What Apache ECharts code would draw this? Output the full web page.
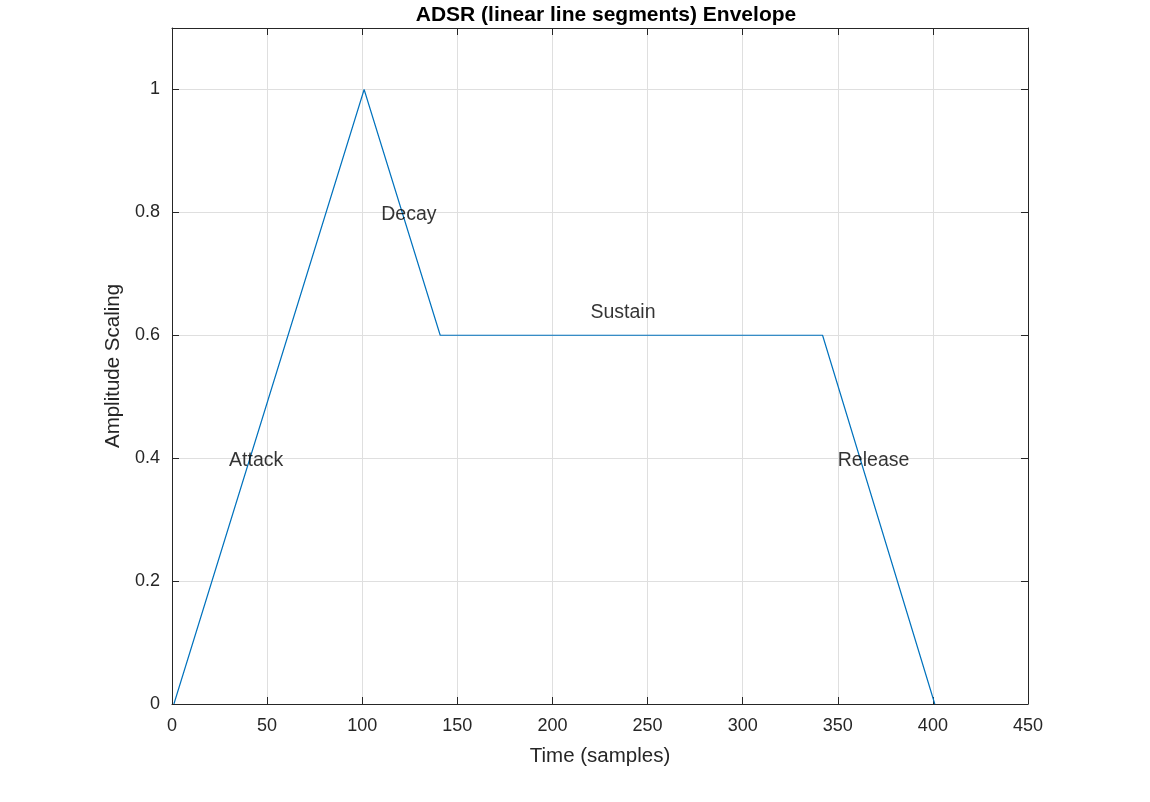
<!DOCTYPE html>
<html>
<head>
<meta charset="utf-8">
<script src="https://cdn.jsdelivr.net/npm/echarts@6/dist/echarts.min.js"></script>
<style>html,body{margin:0;padding:0;background:#fff;}#c{width:1150px;height:802px;}</style>
</head>
<body>
<div id="c"></div>
<script>
const timeSamples = [1, 101, 141, 342, 401];
const amplitude = [0, 1, 0.6, 0.6, 0];
const labelNames = ['Attack', 'Decay', 'Sustain', 'Release'];
const labelX = [30, 110, 220, 350];
const labelY = [0.4, 0.8, 0.64, 0.4];
const xTicks = [0, 50, 100, 150, 200, 250, 300, 350, 400, 450];
const yTicks = [0, 0.2, 0.4, 0.6, 0.8, 1];

const axisColor = '#262626';
const fontFam = 'Liberation Sans, Arial, sans-serif';
const chart = echarts.init(document.getElementById('c'));
const line = {show: true, onZero: false, lineStyle: {color: axisColor, width: 1}};
const tickX = {show: true, inside: true, length: 7, customValues: xTicks, lineStyle: {color: axisColor}};
const tickY = {show: true, inside: true, length: 7, customValues: yTicks, lineStyle: {color: axisColor}};
const grid = {show: true, lineStyle: {color: '#dfdfdf', width: 1}};
chart.setOption({
  animation: false,
  backgroundColor: '#fff',
  title: {
    text: 'ADSR (linear line segments) Envelope',
    left: 601, top: 0, textAlign: 'center',
    textStyle: {fontFamily: fontFam, fontWeight: 'bold', fontSize: 21, color: '#000'}
  },
  grid: {left: 172, right: 122, top: 28, bottom: 98, show: false},
  xAxis: [{
    type: 'value', min: 0, max: 450,
    name: 'Time (samples)', nameLocation: 'middle', nameGap: 42,
    nameTextStyle: {fontFamily: fontFam, fontSize: 20.5, color: axisColor},
    axisLabel: {fontFamily: fontFam, fontSize: 18, color: axisColor, margin: 13, customValues: xTicks},
    splitLine: grid, axisLine: line, axisTick: tickX
  }, {
    type: 'value', min: 0, max: 450, position: 'top',
    axisLabel: {show: false}, splitLine: {show: false}, axisLine: line, axisTick: tickX
  }],
  yAxis: [{
    type: 'value', min: 0, max: 1.1,
    name: 'Amplitude Scaling', nameLocation: 'middle', nameGap: 41,
    nameTextStyle: {fontFamily: fontFam, fontSize: 20.5, color: axisColor},
    axisLabel: {fontFamily: fontFam, fontSize: 18, color: axisColor, margin: 12, customValues: yTicks},
    splitLine: grid, axisLine: line, axisTick: tickY
  }, {
    type: 'value', min: 0, max: 1.1, position: 'right',
    axisLabel: {show: false}, splitLine: {show: false}, axisLine: line, axisTick: tickY
  }],
  series: [{
    type: 'line',
    data: timeSamples.map((t, i) => [t, amplitude[i]]),
    showSymbol: false, symbol: 'none',
    lineStyle: {color: '#0072BD', width: 1.2},
    z: 3
  }, {
    type: 'scatter',
    symbolSize: 0,
    data: labelNames.map((n, i) => ({name: n, value: [labelX[i], labelY[i]]})),
    label: {show: true, position: 'right', distance: 0, offset: [0, 2], formatter: p => p.name,
      fontFamily: fontFam, fontSize: 19.5, color: '#000'},
    silent: true, z: 4
  }]
});
</script>
</body>
</html>
